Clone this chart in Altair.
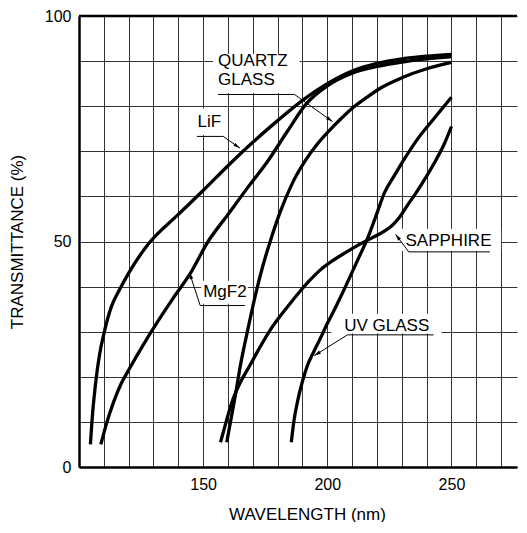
import math
import altair as alt
import pandas as pd

# ---------------- data ----------------
lif_x = [104.6, 105.2, 106.0, 107.0, 108.3, 110.0, 113.0, 116.5, 120.0, 128.0, 140.0, 150.0,
         160.0, 170.0, 180.0, 190.0, 200.0, 210.0, 220.0, 230.0, 240.0, 250.0]
lif_y = [5.0, 10.0, 15.0, 20.0, 25.0, 29.5, 35.5, 39.5, 43.0, 49.5, 56.0, 61.3,
         66.8, 72.0, 76.8, 81.3, 85.0, 87.8, 89.5, 90.5, 91.1, 91.5]

mgf2_x = [108.8, 111.0, 114.0, 117.0, 120.0, 126.0, 132.0, 138.0, 144.7, 152.0, 160.0, 168.0,
          176.0, 184.0, 191.5, 200.0, 210.0, 220.0, 230.0, 240.0, 250.0]
mgf2_y = [5.0, 9.5, 14.5, 18.5, 21.5, 27.2, 32.5, 37.5, 42.8, 50.0, 56.0, 62.0,
          67.8, 74.5, 80.5, 84.5, 87.3, 88.8, 89.8, 90.5, 91.0]

quartz_x = [159.5, 161.0, 163.0, 165.0, 168.0, 171.0, 174.0, 177.0, 181.0, 186.0, 191.0, 196.0,
            201.0, 206.0, 211.0, 216.0, 222.0, 230.0, 240.0, 250.0]
quartz_y = [5.5, 10.0, 16.0, 22.5, 30.5, 38.0, 44.5, 50.0, 56.5, 63.0, 67.8, 71.6,
            74.7, 77.5, 80.0, 82.0, 84.2, 86.3, 88.3, 89.7]

sapphire_x = [157.0, 158.5, 160.0, 162.0, 165.0, 168.8, 172.5, 176.8, 180.8, 184.8, 188.8, 192.8,
              197.0, 202.0, 207.5, 212.8, 218.0, 223.0, 226.0, 229.0, 232.0, 236.0, 240.0, 244.0,
              247.0, 250.0]
sapphire_y = [5.5, 8.5, 11.5, 15.0, 18.8, 22.5, 26.2, 30.2, 33.3, 36.1, 38.8, 41.3,
              43.6, 45.7, 47.6, 49.3, 50.8, 52.3, 53.5, 55.3, 57.8, 61.0, 64.5, 68.3,
              71.5, 75.5]

uv_x = [185.5, 186.5, 188.0, 190.0, 192.0, 194.5, 197.0, 200.0, 203.5, 207.0, 210.0, 213.0,
        216.0, 219.5, 223.0, 227.0, 231.5, 237.0, 242.0, 246.0, 250.0]
uv_y = [5.5, 10.0, 14.5, 19.0, 22.5, 25.5, 28.3, 31.8, 35.6, 39.6, 43.2, 46.8,
        50.4, 55.5, 60.8, 64.6, 68.7, 73.2, 76.6, 79.3, 82.0]

series_names = ["LiF", "MgF2", "QUARTZ GLASS", "SAPPHIRE", "UV GLASS"]
series_x = [lif_x, mgf2_x, quartz_x, sapphire_x, uv_x]
series_y = [lif_y, mgf2_y, quartz_y, sapphire_y, uv_y]

# annotation labels
label_text = ["QUARTZ", "GLASS", "LiF", "MgF2", "SAPPHIRE", "UV GLASS"]
label_x = [156.0, 156.0, 147.7, 150.0, 231.5, 206.8]
label_y = [90.0, 85.9, 76.6, 38.9, 50.1, 31.3]

# white boxes behind labels (mask grid)
box_x = [154.0, 146.4, 149.2, 230.0, 201.6]
box_x2 = [188.8, 158.8, 168.0, 270.0, 246.0]
box_y = [82.9, 73.6, 36.2, 47.9, 29.6]
box_y2 = [91.6, 79.5, 41.3, 52.8, 34.0]

# leader lines: underline start/end and arrow tip
lead_x0 = [156.0, 147.5, 166.8, 265.5, 242.8]
lead_x1 = [186.8, 158.1, 148.8, 232.8, 208.1]
lead_y = [82.6, 73.3, 35.8, 47.7, 29.3]
tip_x = [202.1, 164.8, 144.5, 227.5, 194.8]
tip_y = [76.6, 70.7, 43.1, 51.6, 24.7]

x_ticks_grid = list(range(100, 280, 10))
y_ticks_grid = list(range(0, 101, 10))
x_domain = [100, 276.4]
y_domain = [0, 100]

TOTAL_W = 511
TOTAL_H = 514
PX_PER_X = 2.5
PX_PER_Y = 4.5
FONT = "Liberation Sans"

# ---------------- tables ----------------
rows = []
for name, xs_, ys_ in zip(series_names, series_x, series_y):
    for i, (a, b) in enumerate(zip(xs_, ys_)):
        rows.append({"series": name, "wl": a, "t": b, "order": i})
curves = pd.DataFrame(rows)

labels = pd.DataFrame({"x": label_x, "y": label_y, "text": label_text})
boxes = pd.DataFrame({"x": box_x, "x2": box_x2, "y": box_y, "y2": box_y2})

segs = []
for x0, x1, y, tx, ty in zip(lead_x0, lead_x1, lead_y, tip_x, tip_y):
    segs.append({"x": x0, "y": y, "x2": x1, "y2": y})
    segs.append({"x": x1, "y": y, "x2": tx, "y2": ty})
segs = pd.DataFrame(segs)

heads = []
for x1, y, tx, ty in zip(lead_x1, lead_y, tip_x, tip_y):
    dxp = (tx - x1) * PX_PER_X
    dyp = -(ty - y) * PX_PER_Y
    ang = math.degrees(math.atan2(dxp, -dyp)) % 360
    heads.append({"x": tx, "y": ty, "angle": ang})
heads = pd.DataFrame(heads)

frame = pd.DataFrame({"x": [x_domain[0]], "x2": [x_domain[1]], "y": [y_domain[1]]})

xs = alt.Scale(domain=x_domain, nice=False, zero=False)
ys = alt.Scale(domain=y_domain, nice=False)

x_axis = alt.Axis(
    values=x_ticks_grid,
    labelExpr="(datum.value == 150 || datum.value == 200 || datum.value == 250) ? datum.label : ''",
    labelOverlap=False, grid=True, ticks=False,
    title="WAVELENGTH (nm)", titleX=228, titleAlign="center",
)
y_axis = alt.Axis(
    values=y_ticks_grid,
    labelExpr="(datum.value == 0 || datum.value == 50 || datum.value == 100) ? datum.label : ''",
    labelOverlap=False, grid=True, ticks=False,
    title="TRANSMITTANCE (%)",
)


def X(field):
    return alt.X(field, scale=xs, axis=x_axis)


def Y(field):
    return alt.Y(field, scale=ys, axis=y_axis)


base_grid = alt.Chart(frame).mark_rule(strokeWidth=2.5, color="black").encode(
    x=X("x:Q"), x2="x2:Q", y=Y("y:Q"),
)

box_layer = alt.Chart(boxes).mark_rect(color="white").encode(
    x=X("x:Q"), x2="x2:Q", y=Y("y:Q"), y2="y2:Q"
)

line_layer = alt.Chart(curves).mark_line(
    color="black", strokeWidth=3.3, interpolate="monotone", strokeCap="butt"
).encode(
    x=X("wl:Q"), y=Y("t:Q"), detail="series:N", order="order:Q",
)

seg_layer = alt.Chart(segs).mark_rule(color="black", strokeWidth=1).encode(
    x=X("x:Q"), x2="x2:Q", y=Y("y:Q"), y2="y2:Q"
)

head_layer = alt.Chart(heads).mark_point(
    shape="M0,0 L-0.6,2.2 L0.6,2.2 Z", size=36, filled=True, color="black", opacity=1
).encode(
    x=X("x:Q"), y=Y("y:Q"), angle=alt.Angle("angle:Q", scale=None)
)

text_layer = alt.Chart(labels).mark_text(
    align="left", baseline="middle", font=FONT, fontSize=17, color="black"
).encode(
    x=X("x:Q"), y=Y("y:Q"), text="text:N"
)

chart = alt.layer(
    base_grid, box_layer, line_layer, seg_layer, head_layer, text_layer
).properties(
    width=TOTAL_W, height=TOTAL_H,
    padding={"left": 0, "top": 0, "right": 0, "bottom": 0},
    autosize=alt.AutoSizeParams(type="fit", contains="padding"),
).configure_view(stroke=None).configure_axis(
    domainColor="black", domainWidth=2.5,
    gridColor="#333333", gridWidth=1, gridOpacity=1,
    labelFont=FONT, labelFontSize=16, labelColor="black",
    titleFont=FONT, titleFontSize=17, titleFontWeight="normal", titleColor="black",
).configure_axisX(labelPadding=9, titlePadding=14).configure_axisY(
    labelPadding=8, titlePadding=18
)

chart.save("out.html", embed_options={"renderer": "svg", "actions": False})
